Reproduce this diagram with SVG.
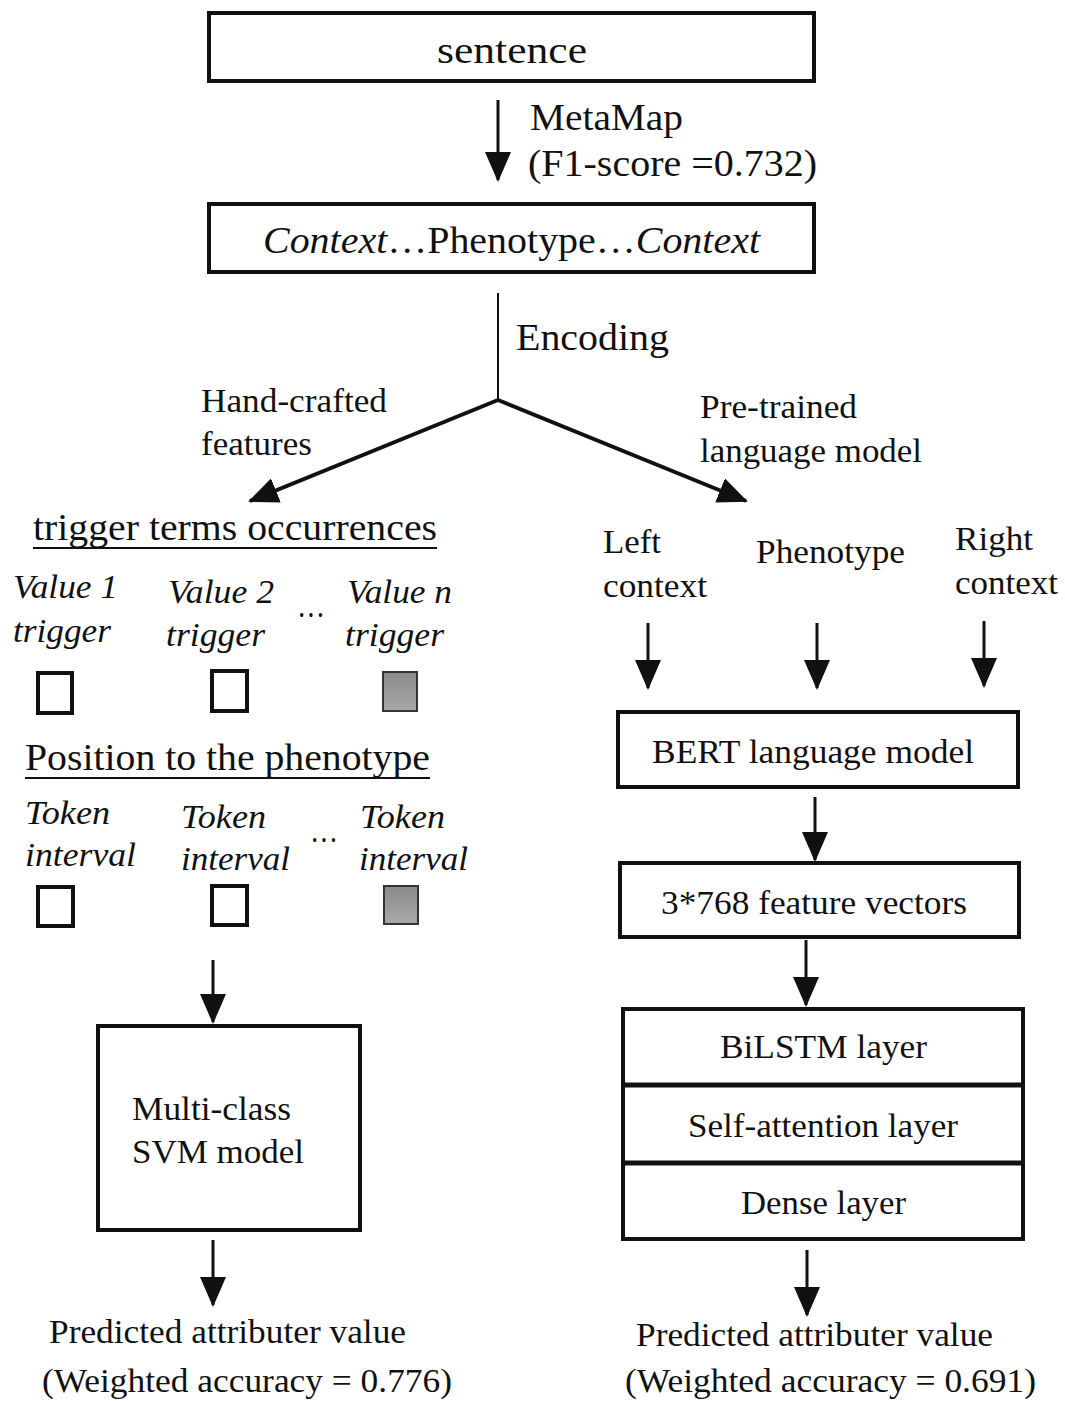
<svg xmlns="http://www.w3.org/2000/svg" width="1065" height="1401" viewBox="0 0 1065 1401" font-family="Liberation Serif, serif">
<defs>
<marker id="ah" viewBox="0 0 30 26" refX="28" refY="13" markerWidth="30" markerHeight="26" markerUnits="userSpaceOnUse" orient="auto">
<path d="M0,0 L30,13 L0,26 z" fill="#111"/>
</marker>
<linearGradient id="gray" x1="0" y1="0" x2="0" y2="1">
<stop offset="0" stop-color="#8a8a8a"/>
<stop offset="1" stop-color="#a8a8a8"/>
</linearGradient>
<style>
text{font-family:'Liberation Serif',serif;fill:#111;}
.big{font-size:37px;}
.mid{font-size:34px;}
.it{font-style:italic;font-size:33px;}
.box{fill:#fff;stroke:#111;stroke-width:4;}
.chk{fill:#fff;stroke:#111;stroke-width:4;}
.chkg{fill:url(#gray);stroke:#333;stroke-width:2;}
.arr{stroke:#111;stroke-width:3;fill:none;marker-end:url(#ah);}
.ln{stroke:#111;stroke-width:2;fill:none;}
.ul{stroke:#111;stroke-width:2;}
</style>
</defs>
<rect width="1065" height="1401" fill="#fff"/>

<g id="connectors">
<line class="arr" x1="498" y1="100" x2="498" y2="180"/>
<line class="ln" x1="498" y1="293" x2="498" y2="400"/>
<line class="arr" style="stroke-width:4" x1="498" y1="400" x2="250" y2="501"/>
<line class="arr" style="stroke-width:4" x1="498" y1="400" x2="746" y2="501"/>
<line class="arr" x1="213" y1="960" x2="213" y2="1022"/>
<line class="arr" x1="213" y1="1240" x2="213" y2="1305"/>
<line class="arr" x1="648" y1="623" x2="648" y2="688"/>
<line class="arr" x1="817" y1="623" x2="817" y2="688"/>
<line class="arr" x1="984" y1="621" x2="984" y2="686"/>
<line class="arr" x1="815" y1="797" x2="815" y2="860"/>
<line class="arr" x1="806" y1="940" x2="806" y2="1005"/>
<line class="arr" x1="807" y1="1250" x2="807" y2="1315"/>
</g>

<g id="sentence">
<rect class="box" x="209" y="13" width="605" height="68"/>
<text class="big" x="512" y="63" text-anchor="middle" textLength="150" lengthAdjust="spacingAndGlyphs">sentence</text>
</g>

<g id="metamap-label">
<text class="big" x="530" y="130" textLength="153" lengthAdjust="spacingAndGlyphs">MetaMap</text>
<text class="big" x="528" y="176" textLength="289" lengthAdjust="spacingAndGlyphs">(F1-score =0.732)</text>
</g>

<g id="context">
<rect class="box" x="209" y="204" width="605" height="68"/>
<text class="big" x="263" y="253" textLength="497" lengthAdjust="spacingAndGlyphs"><tspan font-style="italic">Context</tspan>…Phenotype…<tspan font-style="italic">Context</tspan></text>
</g>

<g id="encoding-label">
<text class="big" x="516" y="350" textLength="153" lengthAdjust="spacingAndGlyphs">Encoding</text>
</g>

<g id="handcrafted-label">
<text class="mid" x="201" y="412" textLength="186" lengthAdjust="spacingAndGlyphs">Hand-crafted</text>
<text class="mid" x="201" y="455" textLength="111" lengthAdjust="spacingAndGlyphs">features</text>
</g>

<g id="pretrained-label">
<text class="mid" x="700" y="418" textLength="157" lengthAdjust="spacingAndGlyphs">Pre-trained</text>
<text class="mid" x="700" y="462" textLength="222" lengthAdjust="spacingAndGlyphs">language model</text>
</g>

<g id="trigger-terms">
<text class="big" x="33" y="540" textLength="404" lengthAdjust="spacingAndGlyphs">trigger terms occurrences</text>
<line class="ul" x1="33" y1="548" x2="437" y2="548"/>
<text class="it" x="13" y="598" textLength="105" lengthAdjust="spacingAndGlyphs">Value 1</text>
<text class="it" x="13" y="642" textLength="98" lengthAdjust="spacingAndGlyphs">trigger</text>
<text class="it" x="168" y="603" textLength="106" lengthAdjust="spacingAndGlyphs">Value 2</text>
<text class="it" x="166" y="646" textLength="99" lengthAdjust="spacingAndGlyphs">trigger</text>
<text class="it" x="347" y="603" textLength="105" lengthAdjust="spacingAndGlyphs">Value n</text>
<text class="it" x="345" y="646" textLength="99" lengthAdjust="spacingAndGlyphs">trigger</text>
<text class="mid" x="297" y="626" textLength="28" lengthAdjust="spacingAndGlyphs">···</text>
<rect class="chk" x="38" y="673" width="34" height="40"/>
<rect class="chk" x="212" y="671" width="35" height="40"/>
<rect class="chkg" x="383" y="672" width="34" height="39"/>
</g>

<g id="position">
<text class="big" x="25" y="770" textLength="405" lengthAdjust="spacingAndGlyphs">Position to the phenotype</text>
<line class="ul" x1="25" y1="778" x2="430" y2="778"/>
<text class="it" x="25" y="824" textLength="85" lengthAdjust="spacingAndGlyphs">Token</text>
<text class="it" x="25" y="866" textLength="111" lengthAdjust="spacingAndGlyphs">interval</text>
<text class="it" x="181" y="828" textLength="85" lengthAdjust="spacingAndGlyphs">Token</text>
<text class="it" x="181" y="870" textLength="109" lengthAdjust="spacingAndGlyphs">interval</text>
<text class="it" x="360" y="828" textLength="85" lengthAdjust="spacingAndGlyphs">Token</text>
<text class="it" x="359" y="870" textLength="109" lengthAdjust="spacingAndGlyphs">interval</text>
<text class="mid" x="310" y="851" textLength="28" lengthAdjust="spacingAndGlyphs">···</text>
<rect class="chk" x="38" y="887" width="35" height="39"/>
<rect class="chk" x="212" y="886" width="35" height="39"/>
<rect class="chkg" x="384" y="886" width="34" height="38"/>
</g>

<g id="svm">
<rect class="box" x="98" y="1026" width="262" height="204"/>
<text class="mid" x="132" y="1120" textLength="159" lengthAdjust="spacingAndGlyphs">Multi-class</text>
<text class="mid" x="132" y="1163" textLength="172" lengthAdjust="spacingAndGlyphs">SVM model</text>
</g>

<g id="left-result">
<text class="mid" x="49" y="1343" textLength="357" lengthAdjust="spacingAndGlyphs">Predicted attributer value</text>
<text class="mid" x="42" y="1392" textLength="410" lengthAdjust="spacingAndGlyphs">(Weighted accuracy = 0.776)</text>
</g>

<g id="inputs">
<text class="mid" x="603" y="553" textLength="58" lengthAdjust="spacingAndGlyphs">Left</text>
<text class="mid" x="603" y="597" textLength="104" lengthAdjust="spacingAndGlyphs">context</text>
<text class="mid" x="756" y="563" textLength="149" lengthAdjust="spacingAndGlyphs">Phenotype</text>
<text class="mid" x="955" y="550" textLength="78" lengthAdjust="spacingAndGlyphs">Right</text>
<text class="mid" x="955" y="594" textLength="103" lengthAdjust="spacingAndGlyphs">context</text>
</g>

<g id="bert">
<rect class="box" x="618" y="712" width="400" height="75"/>
<text class="mid" x="652" y="763" textLength="322" lengthAdjust="spacingAndGlyphs">BERT language model</text>
</g>

<g id="features">
<rect class="box" x="620" y="863" width="399" height="74"/>
<text class="mid" x="661" y="914" textLength="306" lengthAdjust="spacingAndGlyphs">3*768 feature vectors</text>
</g>

<g id="stack">
<rect class="box" x="623" y="1009" width="400" height="230"/>
<line stroke="#111" stroke-width="5" x1="623" y1="1085" x2="1023" y2="1085"/>
<line stroke="#111" stroke-width="5" x1="623" y1="1163" x2="1023" y2="1163"/>
<text class="mid" x="720" y="1058" textLength="207" lengthAdjust="spacingAndGlyphs">BiLSTM layer</text>
<text class="mid" x="688" y="1137" textLength="270" lengthAdjust="spacingAndGlyphs">Self-attention layer</text>
<text class="mid" x="741" y="1214" textLength="165" lengthAdjust="spacingAndGlyphs">Dense layer</text>
</g>

<g id="right-result">
<text class="mid" x="636" y="1346" textLength="357" lengthAdjust="spacingAndGlyphs">Predicted attributer value</text>
<text class="mid" x="625" y="1392" textLength="411" lengthAdjust="spacingAndGlyphs">(Weighted accuracy = 0.691)</text>
</g>
</svg>
